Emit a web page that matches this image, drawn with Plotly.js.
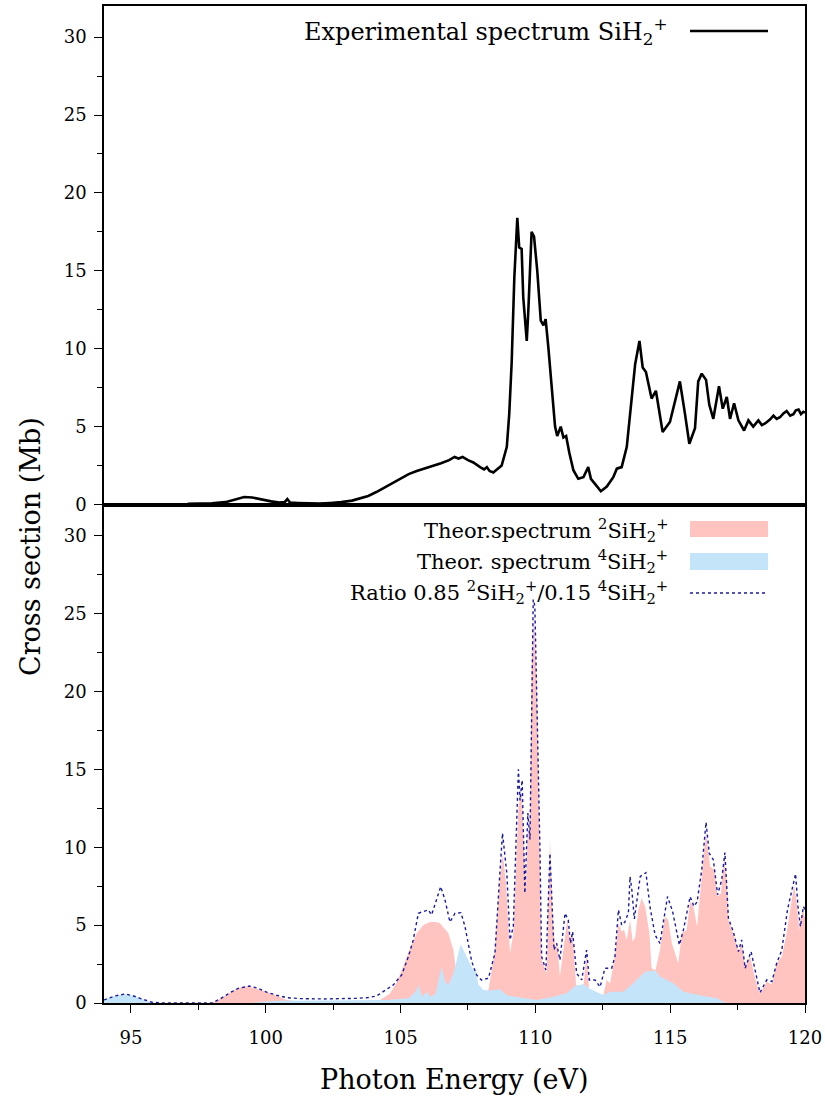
<!DOCTYPE html>
<html>
<head>
<meta charset="utf-8">
<script src="https://cdn.plot.ly/plotly-3.0.1.min.js"></script>
<style>html,body{margin:0;padding:0;background:#fff;}#plot{width:825px;height:1104px;}</style>
</head>
<body>
<div id="plot"></div>
<script>
// Experimental spectrum SiH2+ (top panel)
const expEnergy = [97.1,97.5,98.0,98.5,98.9,99.2,99.5,99.8,100.2,100.5,100.7,100.8,100.9,101.2,101.6,102.0,102.4,102.8,103.2,103.5,103.8,104.1,104.4,104.7,105.0,105.3,105.6,105.9,106.2,106.5,106.8,107.0,107.15,107.3,107.5,107.7,107.95,108.1,108.2,108.3,108.44,108.6,108.75,108.94,109.03,109.12,109.22,109.33,109.4,109.49,109.55,109.68,109.74,109.86,109.95,110.07,110.2,110.3,110.38,110.48,110.6,110.73,110.81,110.94,111.04,111.14,111.26,111.41,111.59,111.78,111.96,112.06,112.27,112.43,112.65,112.89,113.02,113.2,113.39,113.51,113.7,113.86,113.98,114.1,114.31,114.47,114.72,114.99,115.18,115.36,115.55,115.71,115.92,116.04,116.17,116.33,116.45,116.6,116.81,116.95,117.1,117.22,117.37,117.53,117.74,117.9,118.08,118.27,118.4,118.52,118.7,118.83,118.95,119.07,119.2,119.32,119.45,119.57,119.66,119.76,119.85,119.94,120.0];
const expCross = [0.05,0.06,0.08,0.15,0.35,0.48,0.45,0.33,0.2,0.12,0.15,0.35,0.12,0.1,0.08,0.06,0.1,0.15,0.25,0.38,0.55,0.8,1.1,1.4,1.7,1.95,2.15,2.3,2.5,2.65,2.85,3.05,2.95,3.05,2.85,2.7,2.4,2.25,2.4,2.15,2.05,2.3,2.5,3.7,5.8,9.1,14.6,18.4,16.5,16.4,13.3,10.5,12.5,17.5,17.2,15.0,11.8,11.5,11.9,10.1,7.5,5.0,4.4,5.0,4.3,4.4,3.3,2.2,1.65,1.75,2.4,1.65,1.2,0.85,1.15,1.75,2.3,2.4,3.7,5.6,9.0,10.5,8.8,8.5,6.8,7.3,4.65,5.3,6.6,7.9,5.8,3.9,4.9,7.9,8.4,8.0,6.4,5.5,7.6,6.15,6.9,5.5,6.5,5.4,4.75,5.4,5.0,5.4,5.1,5.2,5.45,5.7,5.5,5.6,5.85,6.0,5.7,5.8,6.05,6.1,5.8,5.95,5.9];

// Theoretical spectrum 2SiH2+ (pink)
const doubletEnergy = [94.0,98.0,98.3,98.6,98.9,99.23,99.6,100.03,100.4,100.78,101.2,104.0,104.24,104.6,104.85,105.1,105.35,105.6,105.85,106.09,106.3,106.46,106.77,106.96,107.1,107.3,107.8,108.1,108.26,108.5,108.69,108.79,108.91,109.06,109.18,109.37,109.49,109.55,109.65,109.72,109.8,109.86,109.95,110.05,110.15,110.23,110.32,110.42,110.54,110.64,110.73,110.81,110.91,111.1,111.18,111.28,111.38,111.51,111.78,111.9,111.99,112.3,112.52,112.64,112.77,112.95,113.08,113.2,113.29,113.39,113.51,113.61,113.7,113.82,113.94,114.07,114.23,114.31,114.45,114.62,114.81,114.93,115.06,115.3,115.43,115.61,115.74,115.86,116.0,116.17,116.33,116.48,116.63,116.76,116.88,117.0,117.1,117.16,117.34,117.53,117.65,117.78,117.96,118.15,118.33,118.58,118.77,118.95,119.14,119.32,119.45,119.59,119.69,119.79,119.91,120.0];
const doubletCross = [0,0,0.25,0.6,0.9,1.09,0.95,0.73,0.45,0.2,0.1,0.1,0.2,0.6,1.3,2.33,3.5,4.48,5.0,5.2,5.2,5.12,4.48,3.4,1.5,0.5,0.3,0.6,0.84,3.4,8.1,9.6,7.7,3.2,4.48,12.6,13.5,10.9,7.26,11.3,10.5,21.6,25.0,20.5,10.9,2.76,2.33,1.9,10.5,5.55,3.4,3.9,1.7,4.48,5.33,4.05,4.48,1.16,1.05,3.2,0.84,0.6,0.5,1.48,1.27,2.98,5.12,4.58,4.7,4.05,5.33,3.94,4.2,5.98,6.73,6.19,4.48,2.23,2.1,3.4,5.55,5.33,3.83,2.55,4.48,4.69,6.51,6.19,4.9,8.12,11.0,8.76,8.55,6.83,7.05,9.4,7.9,5.33,4.48,3.3,3.83,2.33,2.98,1.59,0.58,1.37,1.2,2.55,2.98,4.48,5.98,7.58,6.5,4.69,5.98,5.5];

// Theoretical spectrum 4SiH2+ (blue)
const quartetEnergy = [94.0,94.4,94.78,95.1,95.34,95.77,96.2,99.5,100.0,100.5,104.5,105.3,105.55,105.66,105.8,105.97,106.1,106.3,106.45,106.52,106.65,106.77,106.96,107.08,107.23,107.33,107.45,107.64,107.82,107.88,108.07,108.32,108.69,108.94,109.43,110.05,110.67,111.16,111.47,111.78,112.03,112.52,112.77,113.26,113.63,114.07,114.44,114.62,115.12,115.49,116.23,116.73,116.97,117.1,120.0];
const quartetCross = [0.2,0.45,0.58,0.45,0.3,0.02,0,0,0.1,0.15,0.2,0.3,0.7,1.16,0.4,0.73,0.4,0.6,1.8,2.33,1.4,1.16,1.9,2.76,3.77,3.4,2.98,2.3,1.93,1.2,0.84,0.8,0.88,0.5,0.36,0.2,0.4,0.62,1.09,1.22,0.9,0.51,0.73,0.73,1.27,2.0,2.08,1.7,1.27,0.73,0.45,0.3,0.08,0,0];

// Ratio 0.85 2SiH2+ / 0.15 4SiH2+ (dotted)
const ratioEnergy = [94.0,94.4,94.78,95.1,95.34,95.77,96.2,98.0,98.3,98.67,99.0,99.4,99.7,100.03,100.4,100.78,101.3,102.14,103.37,103.8,104.11,104.36,104.73,105.04,105.29,105.47,105.66,105.84,106.03,106.15,106.34,106.49,106.65,106.83,107.02,107.24,107.39,107.64,107.82,108.0,108.26,108.5,108.69,108.78,108.94,109.06,109.18,109.37,109.43,109.51,109.61,109.72,109.8,109.92,109.98,110.05,110.17,110.23,110.39,110.54,110.69,110.79,110.91,111.1,111.22,111.3,111.38,111.53,111.72,111.9,112.0,112.21,112.4,112.58,112.83,112.95,113.08,113.2,113.32,113.45,113.51,113.57,113.67,113.89,114.1,114.25,114.44,114.62,114.75,114.9,115.09,115.34,115.49,115.74,115.88,116.0,116.17,116.33,116.45,116.6,116.76,116.91,117.03,117.16,117.34,117.53,117.65,117.78,118.0,118.15,118.33,118.58,118.77,118.95,119.14,119.35,119.45,119.65,119.74,119.83,119.94,120.0];
const ratioCross = [0.2,0.45,0.58,0.45,0.3,0.05,0,0,0.25,0.66,0.95,1.09,0.95,0.7,0.5,0.34,0.28,0.26,0.3,0.35,0.45,0.73,1.16,1.8,2.98,4.05,5.76,5.87,5.98,5.66,6.6,7.47,6.6,5.2,5.76,5.8,4.9,2.65,1.8,1.48,1.59,3.2,8.55,10.9,8.33,4.05,4.9,15.0,13.0,14.3,7.05,12.2,10.5,25.9,25.5,20.3,9.83,2.98,2.12,9.6,3.4,3.83,2.76,5.76,5.33,3.83,4.58,1.9,1.48,3.4,1.48,1.48,1.03,2.23,2.23,2.98,5.98,5.0,5.2,5.8,8.12,7.4,5.4,8.12,8.37,6.19,4.37,3.83,5.1,6.83,5.87,3.73,4.69,6.83,6.2,6.5,8.55,11.6,9.6,9.2,6.95,7.9,9.66,5.44,4.58,3.3,4.05,2.23,3.3,2.0,0.66,1.48,1.37,2.55,3.4,5.98,6.83,8.29,6.2,4.9,6.2,6.0];

const xTickVals = [95,100,105,110,115,120];
const yTickVals = [0,5,10,15,20,25,30];
const legendLabels = [
  "Experimental spectrum SiH<sub>2</sub><sup>+</sup>",
  "Theor.spectrum <sup>2</sup>SiH<sub>2</sub><sup>+</sup>",
  "Theor. spectrum <sup>4</sup>SiH<sub>2</sub><sup>+</sup>",
  "Ratio 0.85 <sup>2</sup>SiH<sub>2</sub><sup>+</sup>/0.15 <sup>4</sup>SiH<sub>2</sub><sup>+</sup>"
];
const xTitle = "Photon Energy (eV)";
const yTitle = "Cross section (Mb)";

const PINK = '#FFC4C0';
const BLUE = '#C4E4FA';
const FONT = '"DejaVu Serif", serif';

// pixel helpers for plot area: left 104, right 805, top 6, bottom 1003
const L = 104, R = 805, T = 6, B = 1003;
const px = v => (v - L) / (R - L);
const py = v => (B - v) / (B - T);

const traces = [
  {x: expEnergy, y: expCross, xaxis: 'x', yaxis: 'y', type: 'scatter', mode: 'lines',
   line: {color: '#000', width: 2.6}, showlegend: false, hoverinfo: 'skip'},
  {x: doubletEnergy, y: doubletCross, xaxis: 'x2', yaxis: 'y2', type: 'scatter', mode: 'lines',
   fill: 'tozeroy', fillcolor: PINK, line: {color: PINK, width: 0}, showlegend: false, hoverinfo: 'skip'},
  {x: quartetEnergy, y: quartetCross, xaxis: 'x2', yaxis: 'y2', type: 'scatter', mode: 'lines',
   fill: 'tozeroy', fillcolor: BLUE, line: {color: BLUE, width: 0}, showlegend: false, hoverinfo: 'skip'},
  {x: ratioEnergy, y: ratioCross, xaxis: 'x2', yaxis: 'y2', type: 'scatter', mode: 'lines',
   line: {color: '#1a1aa0', width: 1.4, dash: 'dot'}, showlegend: false, hoverinfo: 'skip'}
];

const tickFont = {family: FONT, size: 18, color: '#000'};
const baseX = {range: [94, 120], showline: true, linecolor: '#000', linewidth: 1.5, mirror: true,
  showgrid: false, zeroline: false, tickvals: xTickVals, tickfont: tickFont};
const baseY = {range: [0, 32], showline: true, linecolor: '#000', linewidth: 1.5, mirror: true,
  showgrid: false, zeroline: false, tickvals: yTickVals, tickfont: tickFont,
  ticks: 'outside', ticklen: 8, tickwidth: 1.2, tickcolor: '#000', ticklabelstandoff: 4,
  minor: {tickvals: [2.5,7.5,12.5,17.5,22.5,27.5], ticks: 'outside', ticklen: 5, tickwidth: 1, tickcolor: '#000'}};

const layout = {
  width: 825, height: 1104,
  margin: {l: L, r: 825 - R, t: T, b: 1104 - B},
  paper_bgcolor: '#fff', plot_bgcolor: '#fff',
  font: {family: FONT, size: 18, color: '#000'},
  showlegend: false,
  xaxis: Object.assign({}, baseX, {anchor: 'y', showticklabels: false, ticks: ''}),
  yaxis: Object.assign({}, baseY, {domain: [0.5, 1], anchor: 'x'}),
  xaxis2: Object.assign({}, baseX, {anchor: 'y2', ticks: 'outside', ticklen: 8, tickwidth: 1.2, tickcolor: '#000',
    ticklabelstandoff: 10,
    minor: {tickvals: [97.5,102.5,107.5,112.5,117.5], ticks: 'outside', ticklen: 5, tickwidth: 1, tickcolor: '#000'}}),
  yaxis2: Object.assign({}, baseY, {domain: [0, 0.5], anchor: 'x2'}),
  annotations: [
    {xref: 'paper', yref: 'paper', x: px(670), y: py(31), xanchor: 'right', yanchor: 'middle', showarrow: false,
     text: legendLabels[0], font: {family: FONT, size: 24, color: '#000'}},
    {xref: 'paper', yref: 'paper', x: px(670), y: py(530), xanchor: 'right', yanchor: 'middle', showarrow: false,
     text: legendLabels[1], font: {family: FONT, size: 21, color: '#000'}},
    {xref: 'paper', yref: 'paper', x: px(670), y: py(561), xanchor: 'right', yanchor: 'middle', showarrow: false,
     text: legendLabels[2], font: {family: FONT, size: 21, color: '#000'}},
    {xref: 'paper', yref: 'paper', x: px(670), y: py(592), xanchor: 'right', yanchor: 'middle', showarrow: false,
     text: legendLabels[3], font: {family: FONT, size: 21, color: '#000'}},
    {xref: 'paper', yref: 'paper', x: px(454), y: py(1079), xanchor: 'center', yanchor: 'middle', showarrow: false,
     text: xTitle, font: {family: FONT, size: 27, color: '#000'}},
    {xref: 'paper', yref: 'paper', x: px(30), y: py(547), xanchor: 'center', yanchor: 'middle', showarrow: false,
     textangle: -90, text: yTitle, font: {family: FONT, size: 27, color: '#000'}}
  ],
  shapes: [
    {type: 'line', xref: 'paper', yref: 'paper', x0: px(690), x1: px(768), y0: py(31), y1: py(31),
     line: {color: '#000', width: 2.4}},
    {type: 'rect', xref: 'paper', yref: 'paper', x0: px(690), x1: px(768), y0: py(537), y1: py(521),
     fillcolor: PINK, line: {width: 0}},
    {type: 'rect', xref: 'paper', yref: 'paper', x0: px(690), x1: px(768), y0: py(570), y1: py(553),
     fillcolor: BLUE, line: {width: 0}},
    {type: 'line', xref: 'paper', yref: 'paper', x0: px(690), x1: px(768), y0: py(593), y1: py(593),
     line: {color: '#1a1aa0', width: 1.4, dash: 'dot'}}
  ]
};

Plotly.newPlot('plot', traces, layout, {displayModeBar: false});
</script>
</body>
</html>
